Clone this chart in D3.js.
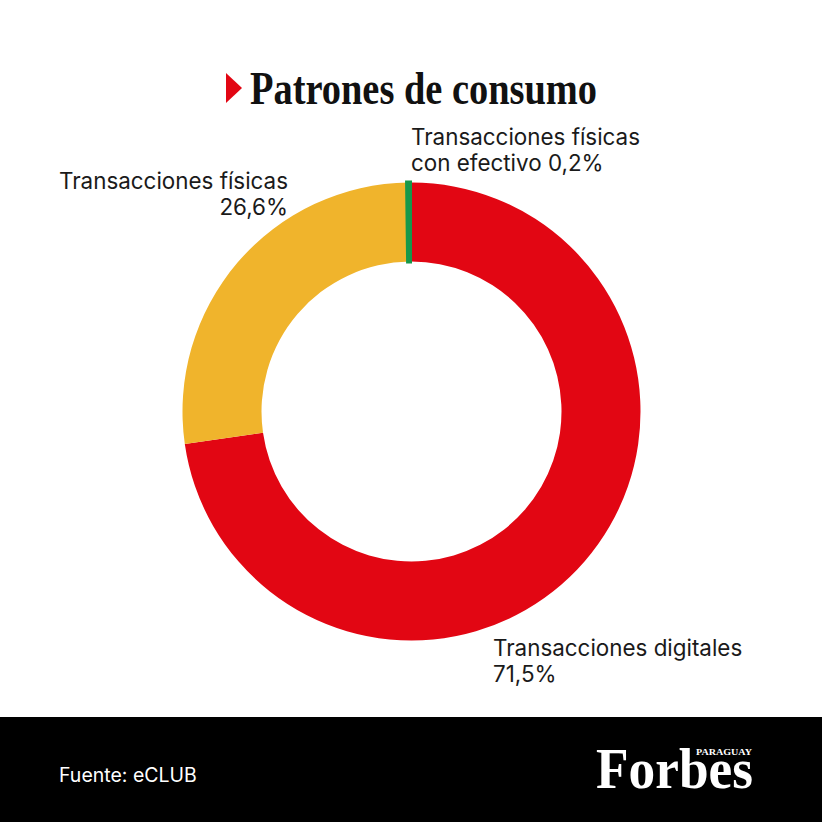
<!DOCTYPE html>
<html><head><meta charset="utf-8">
<script src="https://cdn.jsdelivr.net/npm/d3@7/dist/d3.min.js"></script>
<style>html,body{margin:0;padding:0;background:#fff;}svg{display:block;}</style>
</head><body>
<script>
const categories = ["Transacciones digitales", "Transacciones físicas", "Transacciones físicas con efectivo"];
const values = [71.5, 26.6, 0.2];
const valueLabels = ["71,5%", "26,6%", "0,2%"];
const colors = ["#e20613", "#f0b42c", "#16984a"];
const title = "Patrones de consumo";
const source = "Fuente: eCLUB";

const W = 822, H = 822;
const svg = d3.select("body").append("svg").attr("width", W).attr("height", H);
svg.append("rect").attr("width", W).attr("height", H).attr("fill", "#fff");

// title
svg.append("path").attr("d", "M226,73 L242,88 L226,103 Z").attr("fill", "#e20613");
svg.append("text").attr("x", 250).attr("y", 104)
  .attr("font-family", "Liberation Serif, serif").attr("font-weight", "bold")
  .attr("font-size", 47).attr("textLength", 347).attr("lengthAdjust", "spacingAndGlyphs")
  .attr("fill", "#111").text(title);

// donut
const cx = 411.5, cy = 411.5, R = 229, r = 150;
const pie = d3.pie().sort(null).value(d => d);
const arc = d3.arc().innerRadius(r).outerRadius(R);
const arcs = pie(values);
const g = svg.append("g").attr("transform", `translate(${cx},${cy})`);
g.selectAll("path").data(arcs).enter().append("path")
  .attr("d", arc).attr("fill", (d, i) => colors[i])
  .attr("stroke", (d, i) => i === 2 ? colors[i] : "none")
  .attr("stroke-width", (d, i) => i === 2 ? 4 : 0)
  .attr("transform", (d, i) => i === 2 ? "translate(-1.5,0)" : null);

// labels
const lf = "Inter, 'Noto Sans', sans-serif";
function label(x, y, anchor, lines) {
  const t = svg.append("text").attr("x", x).attr("y", y).attr("text-anchor", anchor)
    .attr("font-family", lf).attr("font-size", 22.4).attr("fill", "#1a1a1a");
  lines.forEach((l, i) => t.append("tspan").attr("x", x).attr("dy", i ? 26 : 0).text(l));
}
label(493, 656, "start", [categories[0], valueLabels[0]]);
label(288, 189, "end", [categories[1], valueLabels[1]]);
label(411, 145, "start", ["Transacciones físicas", "con efectivo " + valueLabels[2]]);

// footer
svg.append("rect").attr("x", 0).attr("y", 717).attr("width", W).attr("height", H - 717).attr("fill", "#000");
svg.append("text").attr("x", 59).attr("y", 782).attr("font-family", lf).attr("font-size", 19.5)
  .attr("fill", "#fff").text(source);
svg.append("text").attr("x", 596).attr("y", 788)
  .attr("font-family", "Liberation Serif, serif").attr("font-weight", "bold")
  .attr("font-size", 56).attr("textLength", 157).attr("lengthAdjust", "spacingAndGlyphs")
  .attr("fill", "#fff").text("Forbes");
svg.append("text").attr("x", 752).attr("y", 755).attr("text-anchor", "end")
  .attr("font-family", "Liberation Serif, serif").attr("font-weight", "bold")
  .attr("font-size", 8).attr("textLength", 56).attr("lengthAdjust", "spacingAndGlyphs")
  .attr("fill", "#fff").text("PARAGUAY");
</script>
</body></html>
